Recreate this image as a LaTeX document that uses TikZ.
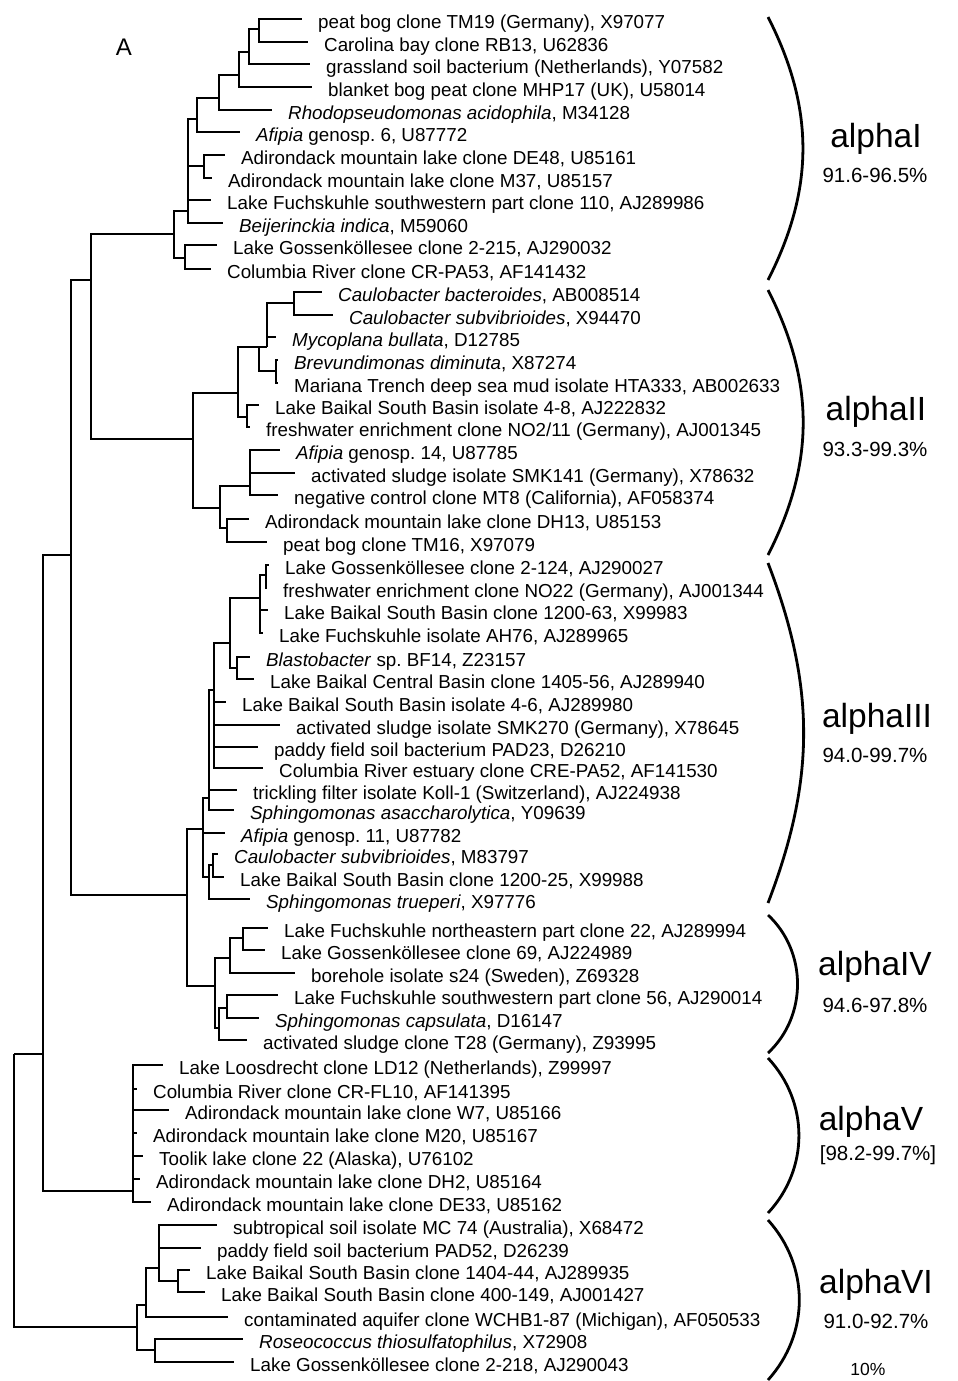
\documentclass[tikz,border=0pt]{standalone}
\usepackage{fontspec}
\setmainfont{Liberation Sans}
\frenchspacing

\begin{document}
\begin{tikzpicture}[x=1pt, y=-1pt, line width=2.4pt,
  leaf/.style={anchor=base west, inner sep=0pt, xshift=15pt, yshift=-9.5pt, font=\fontsize{18.8}{22}\selectfont},
  clade/.style={anchor=base, inner sep=0pt, font=\fontsize{33.5}{36}\selectfont},
  idrange/.style={anchor=base, inner sep=0pt, font=\fontsize{20.5}{24}\selectfont},
  brace/.style={line width=2.8pt}]

  \useasboundingbox (0,0) rectangle (958,1381);

  \foreach \n/\x/\y in {root/14/1054, r1/43/1054, r2/71/555, r3/91/280, r4/187/895,
      I0/174/234, I1/188/211, I2/185/258, I3/197/119, I4/204/166, I5/219/98, I6/239/75, I7/249/52, I8/259/29,
      II0/193/439, II1/238/393, II2/220/508, II3/259/347, II4/247/417, II5/267/347, II6/276/371, II7/294/303, II8/250/486, II9/227/528,
      III0/203/829, III1/209/798, III2/209/877, III3/214/690, III4/230/643, III5/260/598, III6/237/668, III7/266/575, III8/213/865,
      IV0/215/986, IV1/230/958, IV2/219/1028, IV3/243/938, IV4/227/1008,
      V0/133/1191,
      VI0/137/1327, VI1/146/1305, VI2/155/1350, VI3/159/1268, VI4/178/1281}
    \coordinate (\n) at (\x,\y);

  \foreach \p/\c in {root/r1, root/VI0, r1/r2, r1/V0, r2/r3, r2/r4, r3/I0, r3/II0, r4/III0, r4/IV0,
      I0/I1, I0/I2, I1/I3, I1/I4, I3/I5, I5/I6, I6/I7, I7/I8,
      II0/II1, II0/II2, II1/II3, II1/II4, II3/II5, II3/II6, II5/II7, II2/II8, II2/II9,
      III0/III1, III0/III2, III1/III3, III3/III4, III4/III5, III4/III6, III5/III7, III2/III8,
      IV0/IV1, IV0/IV2, IV1/IV3, IV2/IV4,
      VI0/VI1, VI0/VI2, VI1/VI3, VI3/VI4}
    \draw (\p) |- (\c);

  \foreach \p/\x/\y/\txt [count=\i] in {
      I8/302/19/{peat bog clone TM19 (Germany), X97077},
      I8/308/42/{Carolina bay clone RB13, U62836},
      I7/310/64/{grassland soil bacterium (Netherlands), Y07582},
      I6/312/87/{blanket bog peat clone MHP17 (UK), U58014},
      I5/272/110/{\textit{Rhodopseudomonas acidophila}, M34128},
      I3/240/132/{\textit{Afipia} genosp. 6, U87772},
      I4/225/155/{Adirondack mountain lake clone DE48, U85161},
      I4/212/178/{Adirondack mountain lake clone M37, U85157},
      I1/211/200/{Lake Fuchskuhle southwestern part clone 110, AJ289986},
      I1/223/223/{\textit{Beijerinckia indica}, M59060},
      I2/217/245/{Lake Gossenköllesee clone 2-215, AJ290032},
      I2/211/269/{Columbia River clone CR-PA53, AF141432},
      II7/322/292/{\textit{Caulobacter bacteroides}, AB008514},
      II7/333/315/{\textit{Caulobacter subvibrioides}, X94470},
      II5/276/337/{\textit{Mycoplana bullata}, D12785},
      II6/278/360/{\textit{Brevundimonas diminuta}, X87274},
      II6/278/383/{Mariana Trench deep sea mud isolate HTA333, AB002633},
      II4/259/405/{Lake Baikal South Basin isolate 4-8, AJ222832},
      II4/250/427/{freshwater enrichment clone NO2/11 (Germany), AJ001345},
      II8/280/450/{\textit{Afipia} genosp. 14, U87785},
      II8/295/473/{activated sludge isolate SMK141 (Germany), X78632},
      II8/278/495/{negative control clone MT8 (California), AF058374},
      II9/249/519/{Adirondack mountain lake clone DH13, U85153},
      II9/267/542/{peat bog clone TM16, X97079},
      III7/269/565/{Lake Gossenköllesee clone 2-124, AJ290027},
      III7/267/588/{freshwater enrichment clone NO22 (Germany), AJ001344},
      III5/268/610/{Lake Baikal South Basin clone 1200-63, X99983},
      III5/263/633/{Lake Fuchskuhle isolate AH76, AJ289965},
      III6/250/657/{\textit{Blastobacter} sp. BF14, Z23157},
      III6/254/679/{Lake Baikal Central Basin clone 1405-56, AJ289940},
      III3/226/702/{Lake Baikal South Basin isolate 4-6, AJ289980},
      III3/280/725/{activated sludge isolate SMK270 (Germany), X78645},
      III3/258/747/{paddy field soil bacterium PAD23, D26210},
      III3/263/768/{Columbia River estuary clone CRE-PA52, AF141530},
      III1/237/790/{trickling filter isolate Koll-1 (Switzerland), AJ224938},
      III1/234/810/{\textit{Sphingomonas asaccharolytica}, Y09639},
      III0/225/833/{\textit{Afipia} genosp. 11, U87782},
      III8/218/854/{\textit{Caulobacter subvibrioides}, M83797},
      III8/224/877/{Lake Baikal South Basin clone 1200-25, X99988},
      III2/250/899/{\textit{Sphingomonas trueperi}, X97776},
      IV3/268/928/{Lake Fuchskuhle northeastern part clone 22, AJ289994},
      IV3/265/950/{Lake Gossenköllesee clone 69, AJ224989},
      IV1/295/973/{borehole isolate s24 (Sweden), Z69328},
      IV4/278/995/{Lake Fuchskuhle southwestern part clone 56, AJ290014},
      IV4/259/1018/{\textit{Sphingomonas capsulata}, D16147},
      IV2/247/1040/{activated sludge clone T28 (Germany), Z93995},
      V0/163/1065/{Lake Loosdrecht clone LD12 (Netherlands), Z99997},
      V0/137/1089/{Columbia River clone CR-FL10, AF141395},
      V0/169/1110/{Adirondack mountain lake clone W7, U85166},
      V0/137/1133/{Adirondack mountain lake clone M20, U85167},
      V0/143/1156/{Toolik lake clone 22 (Alaska), U76102},
      V0/140/1179/{Adirondack mountain lake clone DH2, U85164},
      V0/151/1202/{Adirondack mountain lake clone DE33, U85162},
      VI3/217/1225/{subtropical soil isolate MC 74 (Australia), X68472},
      VI3/201/1248/{paddy field soil bacterium PAD52, D26239},
      VI4/190/1270/{Lake Baikal South Basin clone 1404-44, AJ289935},
      VI4/205/1292/{Lake Baikal South Basin clone 400-149, AJ001427},
      VI1/228/1317/{contaminated aquifer clone WCHB1-87 (Michigan), AF050533},
      VI2/243/1339/{\textit{Roseococcus thiosulfatophilus}, X72908},
      VI2/234/1362/{Lake Gossenköllesee clone 2-218, AJ290043}}{
    \coordinate (l\i) at (\x,\y);
    \draw (\p) |- (l\i);
    \node[leaf] (t\i) at (l\i) {\txt};
  }

  \foreach \k/\top/\bot/\bend in {1/17/280/27, 2/290/555/27, 3/563/903/21, 4/915/1053/47, 5/1058/1213/43, 6/1220/1380/42}{
    \coordinate (b\k) at (768,\top);
    \coordinate (e\k) at (768,\bot);
    \draw[brace] (b\k) to[bend left=\bend] (e\k);
  }

  \node[clade] (cI) at (876,147) {alphaI};
  \node[idrange] (pI) at (875,182) {91.6-96.5\%};
  \node[clade] (cII) at (876,420) {alphaII};
  \node[idrange] (pII) at (875,456) {93.3-99.3\%};
  \node[clade] (cIII) at (877,727) {alphaIII};
  \node[idrange] (pIII) at (875,762) {94.0-99.7\%};
  \node[clade] (cIV) at (875,975) {alphaIV};
  \node[idrange] (pIV) at (875,1012) {94.6-97.8\%};
  \node[clade] (cV) at (871,1130) {alphaV};
  \node[idrange] (pV) at (878,1160) {[98.2-99.7\%]};
  \node[clade] (cVI) at (876,1293) {alphaVI};
  \node[idrange] (pVI) at (876,1328) {91.0-92.7\%};
  \node[anchor=base, inner sep=0pt, font=\fontsize{17.5}{20}\selectfont] (bar) at (868,1375) {10\%};
  \node[anchor=base, inner sep=0pt, font=\fontsize{24}{28}\selectfont] (panel) at (124,56) {A};

\end{tikzpicture}
\end{document}
